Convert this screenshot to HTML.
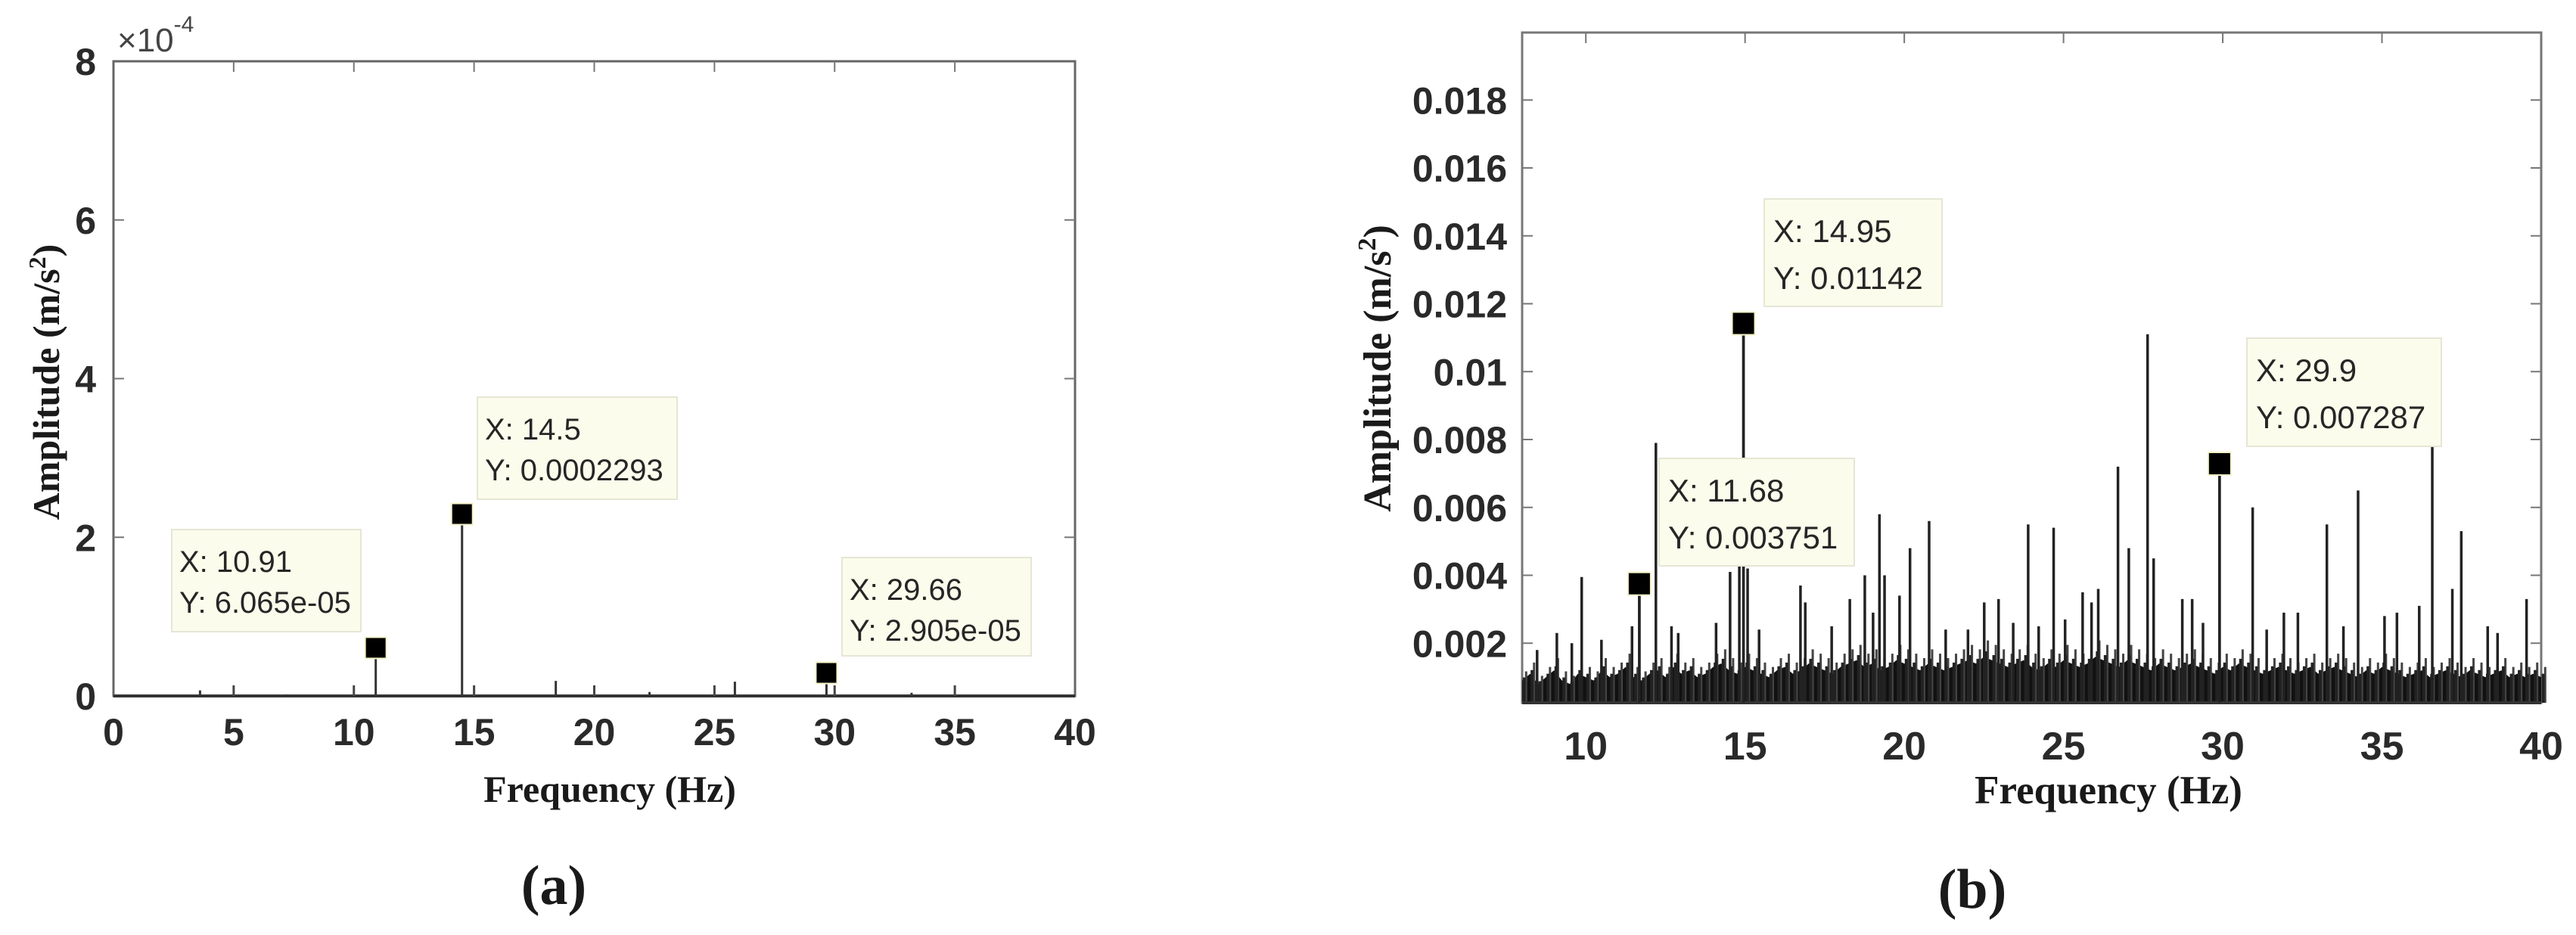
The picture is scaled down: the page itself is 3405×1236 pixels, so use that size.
<!DOCTYPE html>
<html>
<head>
<meta charset="utf-8">
<style>
  html,body{margin:0;padding:0;background:#fff;}
  svg{display:block;}
  .tick{font-family:"Liberation Sans",Arial,sans-serif;font-weight:bold;fill:#2a2a2a;}
  .title{font-family:"Liberation Serif","Times New Roman",serif;font-weight:bold;fill:#1a1a1a;}
  .tip{font-family:"Liberation Sans",Arial,sans-serif;fill:#262626;}
</style>
</head>
<body>
<svg id="fig" width="3405" height="1236" viewBox="0 0 3405 1236" xmlns="http://www.w3.org/2000/svg">
  <g id="panelA"></g>
  <g id="panelB"></g>
</svg>
<script>
// ---------- Panel (a) data ----------
const aXTicks = [0, 5, 10, 15, 20, 25, 30, 35, 40];
const aYTicks = [0, 2, 4, 6, 8];               // ×10^-4
const aStemFreq = [3.6, 7.2, 10.91, 14.5, 18.4, 22.3, 25.85, 29.66, 33.2];
const aStemAmp  = [0.000007, 0.000002, 0.00006065, 0.0002293, 0.000019, 0.000005, 0.000018, 0.00002905, 0.000004];
const aMarkFreq = [10.91, 14.5, 29.66];
const aMarkAmp  = [0.00006065, 0.0002293, 0.00002905];
const aMarkLabelX = ["X: 10.91", "X: 14.5", "X: 29.66"];
const aMarkLabelY = ["Y: 6.065e-05", "Y: 0.0002293", "Y: 2.905e-05"];

// ---------- Panel (b) data ----------
const bXTicks = [10, 15, 20, 25, 30, 35, 40];
const bYTicks = [0.002, 0.004, 0.006, 0.008, 0.01, 0.012, 0.014, 0.016, 0.018];
const bYTickLabels = ["0.002","0.004","0.006","0.008","0.01","0.012","0.014","0.016","0.018"];
const bPeakFreq = [8.47, 9.09, 9.56, 9.87, 10.49, 11.45, 11.68, 12.20, 12.69, 12.90, 14.09, 14.53, 14.82, 14.95, 15.08, 15.44,
  16.74, 16.89, 17.72, 18.29, 18.76, 19.02, 19.22, 19.38, 19.85, 20.18, 20.78, 21.30, 22.00, 22.51, 22.96, 23.42,
  23.89, 24.22, 24.69, 25.05, 25.60, 25.88, 26.09, 26.71, 27.05, 27.64, 27.83, 28.73, 29.04, 29.38, 29.9, 30.94,
  31.38, 31.92, 32.36, 33.27, 33.79, 34.25, 35.08, 35.47, 36.17, 36.58, 37.21, 37.49, 38.32, 38.63, 39.54];
const bPeakAmp = [0.0018, 0.0023, 0.0020, 0.00395, 0.0021, 0.0025, 0.003751, 0.0079, 0.0025, 0.0023, 0.0026, 0.0041, 0.0043, 0.01142, 0.0042, 0.0024,
  0.0037, 0.0032, 0.0025, 0.0033, 0.0040, 0.0029, 0.0058, 0.0040, 0.0034, 0.0048, 0.0056, 0.0024, 0.0024, 0.0032, 0.0033, 0.0026,
  0.0055, 0.0025, 0.0054, 0.0027, 0.0035, 0.0032, 0.0036, 0.0072, 0.0048, 0.0111, 0.0045, 0.0033, 0.0033, 0.0026, 0.007287, 0.0060,
  0.0024, 0.0029, 0.0029, 0.0055, 0.0025, 0.0065, 0.0028, 0.0029, 0.0031, 0.0078, 0.0036, 0.0053, 0.0025, 0.0023, 0.0033];
// noise floor every 0.25 Hz from 8 to 40
const bNoiseStart = 8, bNoiseStep = 0.25;
const bNoise = [
  0.0009,0.0011,0.0008,0.0010,0.0012,0.0009,0.0008,0.0011,0.0010,0.0009,0.0012,0.0010,0.0011,0.0013,0.0010,0.0009,
  0.0011,0.0012,0.0010,0.0013,0.0011,0.0012,0.0010,0.0011,0.0013,0.0014,0.0012,0.0011,0.0013,0.0012,0.0011,0.0010,
  0.0012,0.0013,0.0011,0.0012,0.0014,0.0013,0.0012,0.0011,0.0013,0.0014,0.0015,0.0013,0.0014,0.0012,0.0013,0.0015,
  0.0014,0.0013,0.0012,0.0014,0.0013,0.0012,0.0013,0.0014,0.0015,0.0014,0.0016,0.0015,0.0014,0.0013,0.0014,0.0015,
  0.0013,0.0012,0.0014,0.0013,0.0015,0.0014,0.0013,0.0014,0.0016,0.0015,0.0014,0.0013,0.0015,0.0014,0.0013,0.0012,
  0.0014,0.0013,0.0012,0.0013,0.0014,0.0013,0.0012,0.0011,0.0013,0.0012,0.0014,0.0013,0.0012,0.0011,0.0012,0.0013,
  0.0012,0.0011,0.0012,0.0013,0.0011,0.0012,0.0013,0.0012,0.0011,0.0010,0.0012,0.0011,0.0013,0.0012,0.0011,0.0010,
  0.0011,0.0012,0.0010,0.0011,0.0012,0.0011,0.0010,0.0012,0.0011,0.0010,0.0011,0.0012,0.0010,0.0011,0.0010,0.0011,0.0010];
const bMarkFreq = [14.95, 11.68, 29.9];
const bMarkAmp  = [0.01142, 0.003751, 0.007287];
const bMarkLabelX = ["X: 14.95", "X: 11.68", "X: 29.9"];
const bMarkLabelY = ["Y: 0.01142", "Y: 0.003751", "Y: 0.007287"];

const NS = "http://www.w3.org/2000/svg";
function mk(tag, attrs, parent) {
  const e = document.createElementNS(NS, tag);
  for (const k in attrs) e.setAttribute(k, attrs[k]);
  parent.appendChild(e);
  return e;
}

// ================= Panel (a) =================
(function () {
  const g = document.getElementById("panelA");
  const L = 150, R = 1421, T = 81, B = 920;
  const xA = f => L + (f - 0) / 40 * (R - L);
  const yA = v => B - v / 0.0008 * (B - T);

  const frame = mk("rect", {x: L, y: T, width: R - L, height: B - T, fill: "#fff", stroke: "#666", "stroke-width": 3}, g);
  
  
  const base = mk("line", {x1: L, y1: B, x2: R, y2: B, stroke: "#333", "stroke-width": 4}, g);
  
  

  aXTicks.forEach(t => {
    const x = xA(t);
    if (t > 0 && t < 40) {
      const tk = mk("line", {x1: x, y1: B, x2: x, y2: B - 14, stroke: "#444", "stroke-width": 3}, g);
      
      
      const tk2 = mk("line", {x1: x, y1: T, x2: x, y2: T + 14, stroke: "#777", "stroke-width": 2}, g);
      
      
    }
    const lb = mk("text", {x: x, y: 985, "text-anchor": "middle", "font-size": 50, class: "tick"}, g);
    lb.textContent = String(t);
    
    
  });
  aYTicks.forEach(t => {
    const y = yA(t * 1e-4);
    if (t > 0 && t < 8) {
      const tk = mk("line", {x1: L, y1: y, x2: L + 14, y2: y, stroke: "#777", "stroke-width": 2}, g);
      
      
      const tk2 = mk("line", {x1: R, y1: y, x2: R - 14, y2: y, stroke: "#777", "stroke-width": 2}, g);
      
      
    }
    const lb = mk("text", {x: 127, y: y + 18, "text-anchor": "end", "font-size": 50, class: "tick"}, g);
    lb.textContent = String(t);
    
    
  });
  const ex = mk("text", {x: 155, y: 68, "font-size": 44, fill: "#444", "font-family": "Liberation Sans, Arial, sans-serif"}, g);
  ex.innerHTML = '×10<tspan font-size="30" dy="-26">-4</tspan>';
  
  

  aStemFreq.forEach((f, i) => {
    const s = mk("line", {x1: xA(f), y1: B, x2: xA(f), y2: yA(aStemAmp[i]), stroke: "#333", "stroke-width": 3}, g);
    
    
  });

  const tipBoxes = [[227, 700, 250, 135], [631, 525, 264, 135], [1113, 737, 250, 130]];
  aMarkFreq.forEach((f, i) => {
    const m = mk("rect", {x: xA(f) - 14, y: yA(aMarkAmp[i]) - 14, width: 28, height: 28, fill: "#000", stroke: "#f4f2c8", "stroke-width": 2}, g);
    
    
    const b = tipBoxes[i];
    const box = mk("rect", {x: b[0], y: b[1], width: b[2], height: b[3], fill: "#fcfcec", stroke: "#e6e6d6", "stroke-width": 2}, g);
    
    
    const t1 = mk("text", {x: b[0] + 10, y: b[1] + 56, "font-size": 40, class: "tip"}, g);
    t1.textContent = aMarkLabelX[i];
    
    
    const t2 = mk("text", {x: b[0] + 10, y: b[1] + 110, "font-size": 40, class: "tip"}, g);
    t2.textContent = aMarkLabelY[i];
    
    
  });

  const xt = mk("text", {x: 806, y: 1060, "text-anchor": "middle", "font-size": 50, class: "title"}, g);
  xt.textContent = "Frequency (Hz)";
  
  
  const yt = mk("text", {x: 0, y: 0, "text-anchor": "middle", "font-size": 50, class: "title", transform: "translate(78,505) rotate(-90)"}, g);
  yt.innerHTML = 'Amplitude (m/s<tspan font-size="32" dy="-18">2</tspan><tspan dy="18">)</tspan>';
  
  
  const cap = mk("text", {x: 732, y: 1195, "text-anchor": "middle", "font-size": 74, class: "title", "font-weight": "normal"}, g);
  cap.innerHTML = '(<tspan font-weight="bold">a</tspan>)';
  
  
})();

// ================= Panel (b) =================
(function () {
  const g = document.getElementById("panelB");
  const L = 2012, R = 3359, T = 43, B = 929;
  const xB = f => L + (f - 8) / 32 * (R - L);
  const yB = v => 940 - v / 0.002 * 89.75;

  const frame = mk("rect", {x: L, y: T, width: R - L, height: B - T, fill: "#fff", stroke: "#777", "stroke-width": 3}, g);
  
  

  // noise floor area
  let pts = [[xB(bNoiseStart), B]];
  bNoise.forEach((v, i) => pts.push([xB(bNoiseStart + i * bNoiseStep), yB(v)]));
  pts.push([xB(bNoiseStart + (bNoise.length - 1) * bNoiseStep), B]);
  const area = mk("polygon", {points: pts.map(p => p.join(",")).join(" "), fill: "#111"}, g);
  
  
  bNoise.forEach((v, i) => {
    const x = xB(bNoiseStart + i * bNoiseStep + bNoiseStep / 2);
    const s = mk("line", {x1: x, y1: B, x2: x, y2: yB(v * 1.3), stroke: "#444", "stroke-width": 3}, g);
    
    
    const x2 = xB(bNoiseStart + i * bNoiseStep + bNoiseStep / 4);
    const s2 = mk("line", {x1: x2, y1: B, x2: x2, y2: yB(v * 1.1), stroke: "#222", "stroke-width": 4}, g);
    
    
  });

  bPeakFreq.forEach((f, i) => {
    const s = mk("line", {x1: xB(f), y1: B, x2: xB(f), y2: yB(bPeakAmp[i]), stroke: "#222", "stroke-width": 3.5}, g);
    
    
  });

  bXTicks.forEach(t => {
    const x = xB(t);
    if (t < 40) {
      const tk = mk("line", {x1: x, y1: T, x2: x, y2: T + 14, stroke: "#777", "stroke-width": 2}, g);
      
      
    }
    const lb = mk("text", {x: x, y: 1004, "text-anchor": "middle", "font-size": 52, class: "tick"}, g);
    lb.textContent = String(t);
    
    
  });
  bYTicks.forEach((t, i) => {
    const y = yB(t);
    const tk = mk("line", {x1: L, y1: y, x2: L + 14, y2: y, stroke: "#777", "stroke-width": 2}, g);
    
    
    const tk2 = mk("line", {x1: R, y1: y, x2: R - 14, y2: y, stroke: "#777", "stroke-width": 2}, g);
    
    
    const lb = mk("text", {x: 1992, y: y + 18, "text-anchor": "end", "font-size": 50, class: "tick"}, g);
    lb.textContent = bYTickLabels[i];
    
    
  });
  const axisB = mk("line", {x1: L, y1: B, x2: R, y2: B, stroke: "#333", "stroke-width": 4}, g);
  
  

  const tipBoxes = [[2332, 263, 235, 142], [2193, 606, 258, 142], [2970, 447, 257, 143]];
  bMarkFreq.forEach((f, i) => {
    const s = mk("line", {x1: xB(f), y1: B, x2: xB(f), y2: yB(bMarkAmp[i]), stroke: "#222", "stroke-width": 3.5}, g);
    
    
    const m = mk("rect", {x: xB(f) - 15, y: yB(bMarkAmp[i]) - 15, width: 30, height: 30, fill: "#000", stroke: "#f4f2c8", "stroke-width": 2}, g);
    
    
    const b = tipBoxes[i];
    const box = mk("rect", {x: b[0], y: b[1], width: b[2], height: b[3], fill: "#fcfcec", stroke: "#e6e6d6", "stroke-width": 2}, g);
    
    
    const t1 = mk("text", {x: b[0] + 12, y: b[1] + 57, "font-size": 42, class: "tip"}, g);
    t1.textContent = bMarkLabelX[i];
    
    
    const t2 = mk("text", {x: b[0] + 12, y: b[1] + 119, "font-size": 42, class: "tip"}, g);
    t2.textContent = bMarkLabelY[i];
    
    
  });

  const xt = mk("text", {x: 2787, y: 1062, "text-anchor": "middle", "font-size": 53, class: "title"}, g);
  xt.textContent = "Frequency (Hz)";
  
  
  const yt = mk("text", {x: 0, y: 0, "text-anchor": "middle", "font-size": 52, class: "title", transform: "translate(1838,487) rotate(-90)"}, g);
  yt.innerHTML = 'Amplitude (m/s<tspan font-size="34" dy="-20">2</tspan><tspan dy="20">)</tspan>';
  
  
  const cap = mk("text", {x: 2607, y: 1200, "text-anchor": "middle", "font-size": 74, class: "title", "font-weight": "normal"}, g);
  cap.innerHTML = '(<tspan font-weight="bold">b</tspan>)';
  
  
})();
</script>
</body>
</html>
